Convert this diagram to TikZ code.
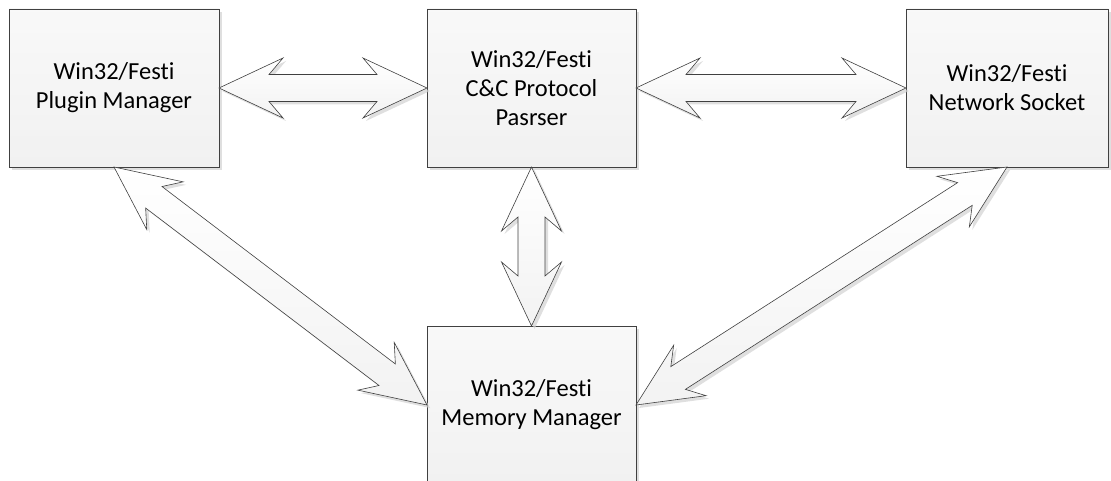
\documentclass[tikz,border=0pt]{standalone}
\usepackage{fontspec}
\setmainfont[Ligatures=NoCommon]{Carlito}
\usetikzlibrary{calc,shadows}

\tikzset{
  module/.style={draw=black!75, line width=0.7pt, top color=gray!5, bottom color=gray!11,
    drop shadow={shadow xshift=3pt, shadow yshift=-3pt, fill=gray!35, opacity=0.7},
    minimum height=158pt, inner sep=0pt, outer sep=0pt, align=center,
    font=\fontsize{24.5}{29}\selectfont},
  arrowbody/.style={draw=black!75, line width=0.6pt, top color=white, bottom color=gray!10,
    drop shadow={shadow xshift=3pt, shadow yshift=-3pt, fill=gray!35, opacity=0.7},
    line join=miter}
}

% double block arrow with swept-back barbs, tip to tip
\newcommand{\biarrow}[2]{%
\draw[arrowbody] (#1)
  -- ($(#1)!64pt!(#2)!30pt!90:(#2)$)
  -- ($(#1)!50pt!(#2)!13.5pt!90:(#2)$)
  -- ($(#2)!50pt!(#1)!13.5pt!-90:(#1)$)
  -- ($(#2)!64pt!(#1)!30pt!-90:(#1)$)
  -- (#2)
  -- ($(#2)!64pt!(#1)!30pt!90:(#1)$)
  -- ($(#2)!50pt!(#1)!13.5pt!90:(#1)$)
  -- ($(#1)!50pt!(#2)!13.5pt!-90:(#2)$)
  -- ($(#1)!64pt!(#2)!30pt!-90:(#2)$)
  -- cycle;}

\begin{document}
\begin{tikzpicture}[x=1pt,y=-1pt]
\useasboundingbox (0,0) rectangle (1111,481);

\node[module, minimum width=210pt] (plugin) at (114,88)   {Win32/Festi\\Plugin Manager};
\node[module, minimum width=209pt] (cc)     at (531.5,88) {Win32/Festi\\C\&C Protocol\\Pasrser};
\node[module, minimum width=202pt] (net)    at (1007,88)  {Win32/Festi\\Network Socket};
\node[module, minimum width=209pt] (mem)    at (531.5,405) {Win32/Festi\\Memory Manager};

\foreach \a/\b in {plugin.east/cc.west, cc.east/net.west, cc.south/mem.north,
                   plugin.south/mem.west, net.south/mem.east}
{\biarrow{\a}{\b}}

\end{tikzpicture}
\end{document}
